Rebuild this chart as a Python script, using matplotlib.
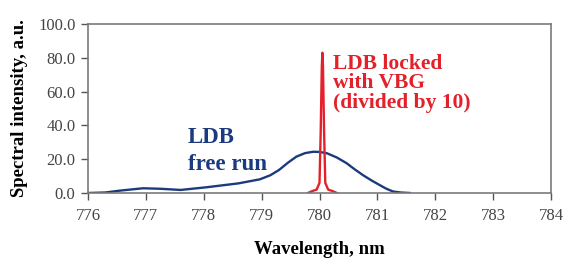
import matplotlib.pyplot as plt

# free-running diode bar spectrum
free_wl = [776.0, 776.3, 776.55, 776.95, 777.25, 777.6, 778.05, 778.6, 778.97,
           779.15, 779.3, 779.45, 779.6, 779.75, 779.89, 780.0, 780.13, 780.3,
           780.47, 780.6, 780.75, 780.9, 781.04, 781.15, 781.27, 781.4, 781.56]
free_int = [0.0, 0.3, 1.4, 2.8, 2.5, 1.8, 3.4, 5.7, 8.1,
            10.5, 13.6, 17.8, 21.5, 23.6, 24.4, 24.3, 23.5, 21.0,
            17.6, 14.2, 10.6, 7.4, 4.7, 2.6, 0.9, 0.3, 0.0]

# VBG-locked spectrum (divided by 10)
locked_wl = [779.8, 779.88, 779.95, 780.0, 780.02, 780.04, 780.05, 780.06,
             780.08, 780.1, 780.15, 780.22, 780.3]
locked_int = [0.0, 1.2, 2.0, 6.0, 35.0, 75.0, 83.0, 75.0, 35.0, 6.0, 2.0, 1.2, 0.0]

xticks = [776, 777, 778, 779, 780, 781, 782, 783, 784]
yticks = [0, 20, 40, 60, 80, 100]

serif = "Liberation Serif"
blue = "#1c3a7e"
red = "#e3212b"

fig = plt.figure(figsize=(5.66, 2.73), dpi=100)
ax = fig.add_axes([88 / 566, 1 - 193 / 273, (551 - 88) / 566, (193 - 24) / 273])

ax.plot(free_wl, free_int, color=blue, lw=1.7)
ax.plot(locked_wl, locked_int, color=red, lw=1.7)

ax.set_xlim(776, 784)
ax.set_ylim(0, 100)
ax.set_xticks(xticks)
ax.set_xticklabels([str(t) for t in xticks])
ax.set_yticks(yticks)
ax.set_yticklabels([f"{t:.1f}" for t in yticks])

for s in ax.spines.values():
    s.set_color("#7a7a7a")
    s.set_linewidth(1.2)
ax.tick_params(colors="#555555", length=5, width=1.0, labelsize=12)
ax.tick_params(axis="x", pad=6)
ax.tick_params(axis="y", pad=4)
for lab in ax.get_xticklabels() + ax.get_yticklabels():
    lab.set_family(serif)
    lab.set_color("#444444")

ax.set_xlabel("Wavelength, nm", family=serif, weight="bold", fontsize=13.5, labelpad=12)
ax.set_ylabel("Spectral intensity, a.u.", family=serif, weight="bold", fontsize=13.5, labelpad=7)

ax.text(777.73, 39.0, "LDB\nfree run", family=serif, weight="bold", fontsize=16.5,
        color=blue, va="top", ha="left", linespacing=1.35)
ax.text(780.23, 82.5, "LDB locked\nwith VBG\n(divided by 10)", family=serif, weight="bold",
        fontsize=15.5, color=red, va="top", ha="left", linespacing=0.97)

fig.savefig("out.png", dpi=100)
